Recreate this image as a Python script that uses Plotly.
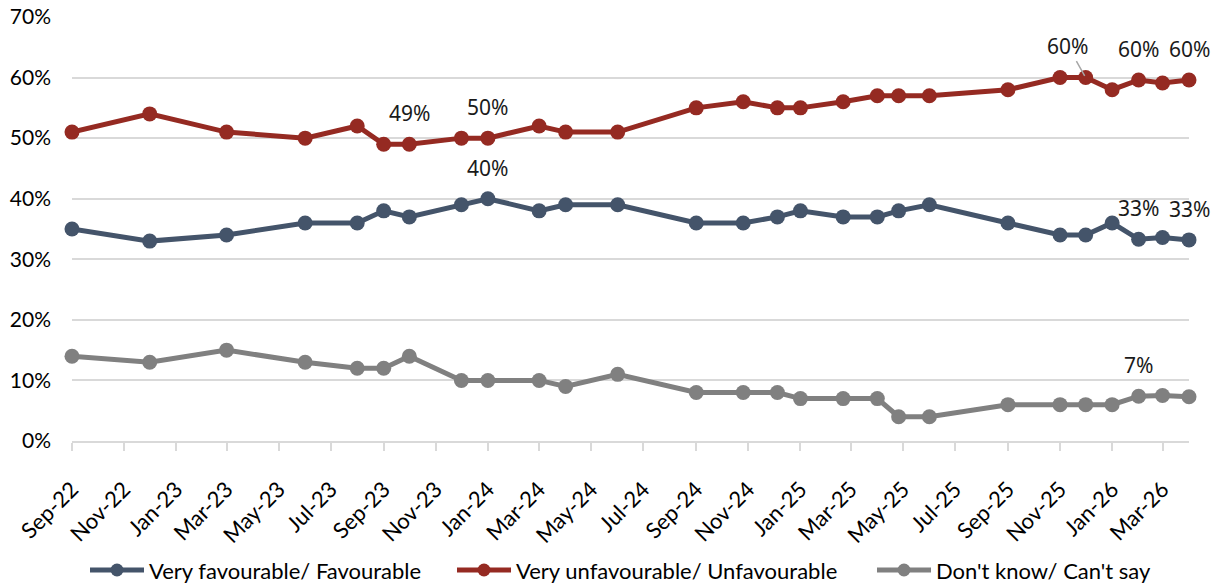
import plotly.graph_objects as go

# Survey dates and shares (%) for each response
dates = ["2022-09-01", "2022-12-01", "2023-03-01", "2023-06-01", "2023-08-01",
         "2023-09-01", "2023-10-01", "2023-12-01", "2024-01-01", "2024-03-01",
         "2024-04-01", "2024-06-01", "2024-09-01", "2024-10-26", "2024-12-05",
         "2025-01-01", "2025-02-20", "2025-04-01", "2025-04-26", "2025-06-01",
         "2025-09-01", "2025-11-01", "2025-12-01", "2026-01-01", "2026-02-01",
         "2026-03-01", "2026-04-01"]
favourable = [35, 33, 34, 36, 36, 38, 37, 39, 40, 38, 39, 39, 36, 36, 37, 38, 37,
              37, 38, 39, 36, 34, 34, 36, 33.3, 33.6, 33.2]
unfavourable = [51, 54, 51, 50, 52, 49, 49, 50, 50, 52, 51, 51, 55, 56, 55, 55, 56,
                57, 57, 57, 58, 60, 60, 58, 59.6, 59.1, 59.6]
dont_know = [14, 13, 15, 13, 12, 12, 14, 10, 10, 10, 9, 11, 8, 8, 8, 7, 7, 7, 4, 4,
             6, 6, 6, 6, 7.4, 7.5, 7.3]

series_names = ["Very favourable/ Favourable", "Very unfavourable/ Unfavourable",
                "Don't know/ Can't say"]
series_values = [favourable, unfavourable, dont_know]
series_colors = ["#44546A", "#952A22", "#808080"]

# Which points carry a value label: (series index, point index)
labelled = [(1, 6), (1, 8), (0, 8), (1, 24), (1, 26), (0, 24), (0, 26), (2, 24)]
leader_labelled = [(1, 22)]

W, H = 1218, 583
M = dict(l=72, r=29, t=17, b=142)
plot_w = W - M["l"] - M["r"]
plot_h = H - M["t"] - M["b"]


def px_to_paper(px, py):
    return (px - M["l"]) / plot_w, (H - M["b"] - py) / plot_h


fig = go.Figure()
for name, vals, col in zip(series_names, series_values, series_colors):
    fig.add_trace(go.Scatter(
        x=dates, y=vals, name=name, mode="lines+markers",
        line=dict(color=col, width=5),
        marker=dict(color=col, size=15),
        cliponaxis=False, showlegend=False,
    ))

label_font = dict(family="Noto Sans", size=21, color="#1a1a1a")
annotations = []
for s, i in labelled:
    v = series_values[s][i]
    annotations.append(dict(
        x=dates[i], y=v, text=f"{v:.0f}%", showarrow=False,
        yanchor="middle", yshift=31, font=label_font,
    ))
for s, i in leader_labelled:
    v = series_values[s][i]
    annotations.append(dict(
        x=dates[i], y=v, text=f"{v:.0f}%", showarrow=True,
        arrowhead=0, arrowwidth=1.5, arrowcolor="#A6A6A6",
        ax=-18, ay=-32, axref="pixel", ayref="pixel",
        standoff=2, font=label_font,
    ))

# Legend row under the chart: line sample with a dot, then the series name
shapes = []
legend_y_px = 570
legend_starts = [90, 457, 877]
sample_len = 54
for name, col, x0 in zip(series_names, series_colors, legend_starts):
    lx0, ly = px_to_paper(x0, legend_y_px)
    lx1, _ = px_to_paper(x0 + sample_len, legend_y_px)
    cx, _ = px_to_paper(x0 + sample_len / 2, legend_y_px)
    shapes.append(dict(type="line", xref="paper", yref="paper",
                       x0=lx0, x1=lx1, y0=ly, y1=ly,
                       line=dict(color=col, width=5)))
    shapes.append(dict(type="circle", xref="paper", yref="paper",
                       xsizemode="pixel", ysizemode="pixel",
                       xanchor=cx, yanchor=ly, x0=-6.5, x1=6.5, y0=-6.5, y1=6.5,
                       fillcolor=col, line=dict(width=0)))
    tx, _ = px_to_paper(x0 + sample_len + 3, legend_y_px)
    annotations.append(dict(xref="paper", yref="paper", x=tx, y=ly,
                            xanchor="left", yanchor="middle", showarrow=False,
                            text=name, font=dict(family="Lato", size=22,
                                                 color="#000000")))

fig.update_layout(
    width=W, height=H,
    margin=M,
    paper_bgcolor="white", plot_bgcolor="white",
    font=dict(family="Lato", size=21, color="#000000"),
    showlegend=False,
    annotations=annotations,
    shapes=shapes,
)
fig.update_xaxes(
    type="date", range=["2022-09-01", "2026-04-01"],
    tick0="2022-09-01", dtick="M2", tickformat="%b-%y", tickangle=-45,
    tickfont=dict(family="Lato", size=22),
    ticks="outside", ticklen=8, tickwidth=1.5, tickcolor="#D9D9D9",
    showline=True, linecolor="#D9D9D9", linewidth=1.5,
    showgrid=False, zeroline=False, ticklabelstandoff=17, automargin=False,
)
fig.update_yaxes(
    range=[0, 70], dtick=10, ticksuffix="%",
    showgrid=True, gridcolor="#D9D9D9", gridwidth=1.5,
    zeroline=False, showline=False, ticks="", ticklabelstandoff=20,
    automargin=False,
)

fig.write_html("out.html")
